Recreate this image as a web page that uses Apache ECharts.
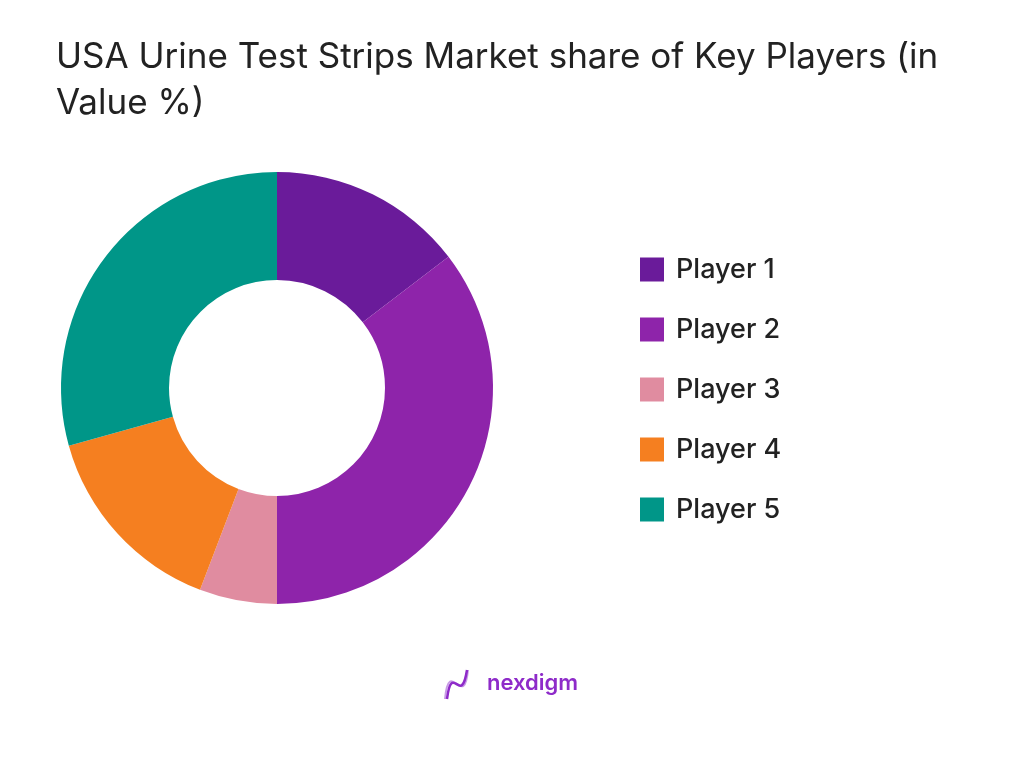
<!DOCTYPE html>
<html><head><meta charset="utf-8">
<script src="https://cdn.jsdelivr.net/npm/echarts@6/dist/echarts.min.js"></script>
<style>html,body{margin:0;padding:0;background:#fff}#c{width:1024px;height:768px}</style>
</head><body><div id="c"></div>
<script>
var categories = ['Player 1', 'Player 2', 'Player 3', 'Player 4', 'Player 5'];
var shares = [14.6, 35.4, 5.8, 14.9, 29.3];
var colors = ['#6a1b9a', '#8e24aa', '#e08ca0', '#f57f20', '#009688'];

var chart = echarts.init(document.getElementById('c'));
chart.setOption({
  animation: false,
  backgroundColor: '#fff',
  title: {
    text: 'USA Urine Test Strips Market share of Key Players (in\nValue %)',
    left: 51, top: 29,
    textStyle: { fontFamily: 'Inter', fontSize: 35, fontWeight: 'normal', color: '#222', lineHeight: 46 }
  },
  legend: {
    orient: 'vertical', left: 640, top: 256, padding: 0,
    itemWidth: 24, itemHeight: 24, itemGap: 33,
    icon: 'rect',
    textStyle: { fontFamily: 'Inter', fontSize: 27, fontWeight: 500, color: '#222', padding: [0, 0, 0, 7] },
    data: categories
  },
  series: [{
    type: 'pie',
    center: [277, 388],
    radius: [108, 216],
    startAngle: 90,
    clockwise: true,
    label: { show: false },
    labelLine: { show: false },
    data: categories.map(function (n, i) { return { name: n, value: shares[i], itemStyle: { color: colors[i] } }; })
  }],
  graphic: [
    {
      type: 'bezierCurve',
      shape: { x1: 445, y1: 699, cpx1: 449, cpy1: 655, cpx2: 464, cpy2: 712, x2: 468, y2: 670 },
      style: { fill: 'none', stroke: '#c89be6', lineWidth: 2 }
    },
    {
      type: 'bezierCurve',
      shape: { x1: 447, y1: 699, cpx1: 452, cpy1: 660, cpx2: 461, cpy2: 708, x2: 467, y2: 670 },
      style: { fill: 'none', stroke: '#8e2bc9', lineWidth: 2.5 }
    },
    {
      type: 'text', left: 487, top: 672,
      style: { text: 'nexdigm', fontFamily: 'Inter', fontSize: 22, fontWeight: 600, fill: '#8e2bc9' }
    }
  ]
});
</script></body></html>
